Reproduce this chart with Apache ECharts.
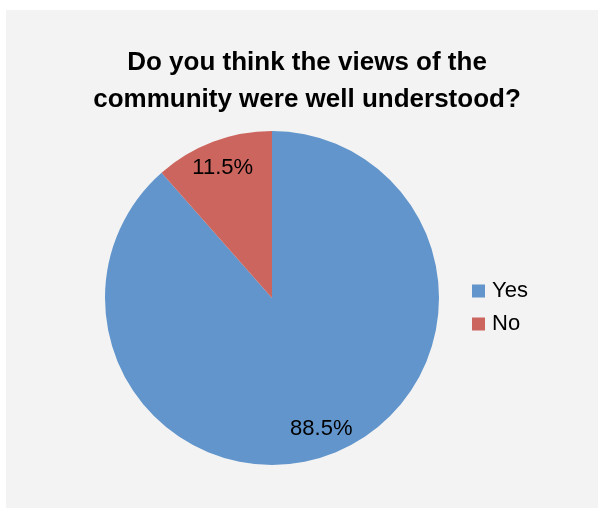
<!DOCTYPE html>
<html>
<head>
<meta charset="utf-8">
<script src="https://cdn.jsdelivr.net/npm/echarts@6/dist/echarts.min.js"></script>
<style>
  html, body { margin: 0; padding: 0; background: #ffffff; }
  #chart { position: absolute; left: 6px; top: 10px; width: 592px; height: 498px; background: #f3f3f3; }
</style>
</head>
<body>
<div id="chart"></div>
<script>
// Survey answers and their shares (percent)
const categories = ['Yes', 'No'];
const shares = [88.5, 11.5];
const colors = ['#6195CB', '#CC655E'];
const titleText = 'Do you think the views of the\ncommunity were well understood?';

const FONT = '"Liberation Sans Narrow", "Arial Narrow", "Liberation Sans", Arial, sans-serif';

const pieData = categories.map((name, i) => ({ name, value: shares[i], itemStyle: { color: colors[i] } }));

const chart = echarts.init(document.getElementById('chart'), null, { renderer: 'canvas' });
chart.setOption({
  backgroundColor: '#f3f3f3',
  animation: false,
  title: {
    text: titleText,
    left: 296,
    textAlign: 'center',
    top: 29,
    textStyle: { fontFamily: FONT, fontSize: 26, fontWeight: 'bold', color: '#000', lineHeight: 37 }
  },
  legend: {
    orient: 'vertical',
    left: 461,
    top: 265,
    itemWidth: 13,
    itemHeight: 13,
    itemGap: 11,
    icon: 'rect',
    data: categories,
    textStyle: { fontFamily: FONT, fontSize: 22, color: '#000', padding: [0, 0, 0, 2] }
  },
  series: [
    {
      type: 'pie',
      center: [266, 288],
      radius: [0, 167],
      startAngle: 90,
      clockwise: true,
      label: { show: false },
      labelLine: { show: false },
      itemStyle: { borderWidth: 0 },
      data: pieData
    },
    {
      // transparent ring used only to place the percentage labels near the rim
      type: 'pie',
      center: [266, 288],
      radius: [106, 167],
      startAngle: 90,
      clockwise: true,
      silent: true,
      legendHoverLink: false,
      itemStyle: { color: 'transparent', borderWidth: 0 },
      label: {
        show: true,
        position: 'inside',
        formatter: p => p.value.toFixed(1) + '%',
        fontFamily: FONT,
        fontSize: 22,
        color: '#000'
      },
      labelLine: { show: false },
      data: categories.map((name, i) => ({ name: name + ' ', value: shares[i] }))
    }
  ]
});
</script>
</body>
</html>
